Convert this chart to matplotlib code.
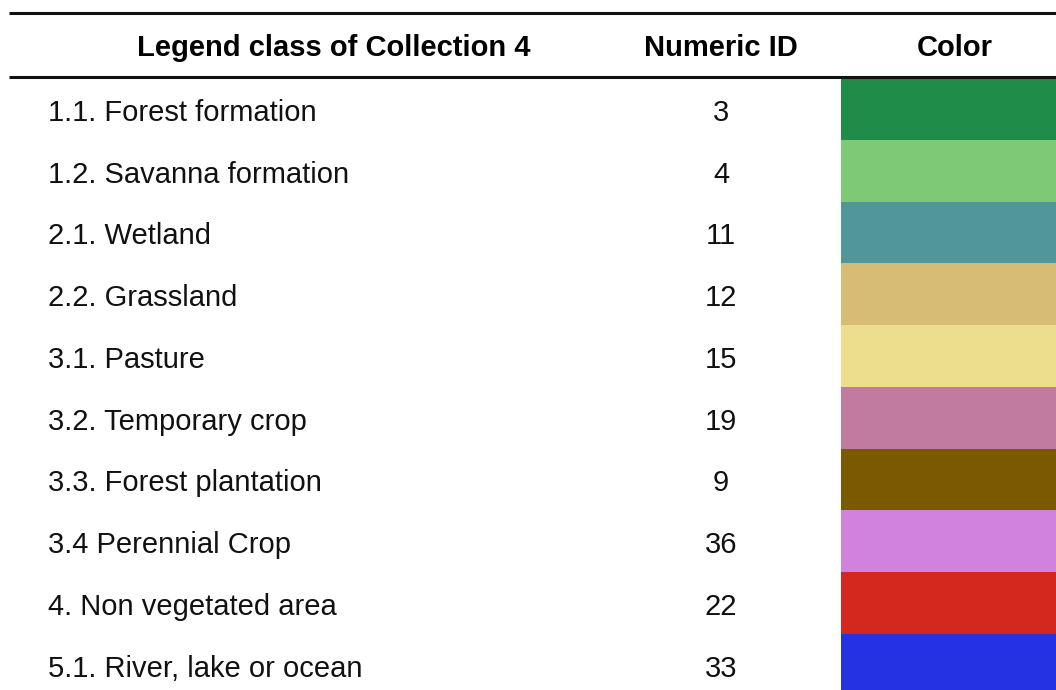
import matplotlib
matplotlib.use("Agg")
import matplotlib.pyplot as plt

headers = ["Legend class of Collection 4", "Numeric ID", "Color"]
classes = ["1.1. Forest formation", "1.2. Savanna formation", "2.1. Wetland",
           "2.2. Grassland", "3.1. Pasture", "3.2. Temporary crop",
           "3.3. Forest plantation", "3.4 Perennial Crop",
           "4. Non vegetated area", "5.1. River, lake or ocean"]
ids = [3, 4, 11, 12, 15, 19, 9, 36, 22, 33]
colors = ["#1f8d49", "#7dc975", "#519799", "#d6bc74", "#edde8e",
          "#c27ba0", "#7a5900", "#d082de", "#d4271e", "#2532e4"]

plt.rcParams['font.family'] = ['Liberation Sans', 'DejaVu Sans']

W, H = 1056, 690
fig = plt.figure(figsize=(W / 100, H / 100), dpi=100)
ax = fig.add_axes([0, 0, 1, 1])
row_px = 61.75
top_px = 78
ax.set_xlim(0, W)
ax.set_ylim((H - top_px) / row_px, -top_px / row_px)
ax.axis('off')

n = len(classes)
rows = list(range(n))
ax.barh([r + 0.5 for r in rows], [W - 841] * n, left=841, height=1.0,
        color=colors, linewidth=0)

base = 12.0 / row_px
for r, (c, v) in enumerate(zip(classes, ids)):
    ax.text(48, r + 0.5 + base, c, fontsize=21, va='baseline', ha='left', color='#111111')
    ax.text(721, r + 0.5 + base, str(v), fontsize=21, va='baseline', ha='center', color='#111111')

hy = -(top_px - 56.0) / row_px
for x, h in zip([333.5, 721, 954.5], headers):
    ax.text(x, hy, h, fontsize=21, fontweight='bold', va='baseline', ha='center', color='black')

ax.plot([9, W], [-(top_px - 13.5) / row_px] * 2, color='#111111', lw=2.2, solid_capstyle='butt')
ax.plot([9, W], [-1.0 / row_px] * 2, color='#111111', lw=2.2, solid_capstyle='butt')

fig.savefig("out.png", dpi=100)
